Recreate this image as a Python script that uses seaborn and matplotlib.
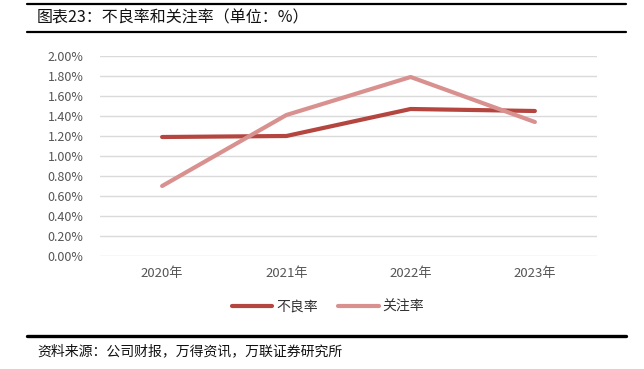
import matplotlib
matplotlib.use("Agg")
import matplotlib.pyplot as plt
import seaborn as sns
import pandas as pd
from matplotlib.lines import Line2D

years = ["2020年", "2021年", "2022年", "2023年"]
npl_rate = [1.19, 1.20, 1.47, 1.45]        # 不良率 (%)
watch_rate = [0.70, 1.41, 1.79, 1.34]      # 关注率 (%)
series_names = ["不良率", "关注率"]
yticks = [0.0, 0.2, 0.4, 0.6, 0.8, 1.0, 1.2, 1.4, 1.6, 1.8, 2.0]

sns.set_theme(style="white")
plt.rcParams['font.family'] = ['Noto Sans CJK SC', 'DejaVu Sans']

df = pd.DataFrame({
    "年份": years * 2,
    "值": npl_rate + watch_rate,
    "系列": [series_names[0]] * 4 + [series_names[1]] * 4,
})

colors = {"不良率": "#B4453F", "关注率": "#D9918F"}

fig = plt.figure(figsize=(6.44, 3.69), dpi=100)
ax = fig.add_axes([100/644, 1-256/369, 497/644, 200/369])

sns.lineplot(data=df, x="年份", y="值", hue="系列", palette=colors,
             linewidth=3.0, ax=ax, legend=False, sort=False)

ax.set_xlim(-0.5, 3.5)
ax.set_ylim(0, 2.0)
ax.set_yticks(yticks)
ax.set_yticklabels([f"{v:.2f}%" for v in yticks], fontsize=9, color="#555555")
ax.tick_params(axis="y", length=0, pad=12)
ax.tick_params(axis="x", length=0, pad=8, labelsize=9.5, labelcolor="#555555")
ax.set_xlabel("")
ax.set_ylabel("")
ax.grid(axis="y", color="#DADADA", linewidth=1.0)
ax.set_axisbelow(True)
for s in ax.spines.values():
    s.set_visible(False)

handles = [Line2D([0], [0], color=colors[n], linewidth=3.0) for n in series_names]
fig.legend(handles, series_names, loc="center", bbox_to_anchor=(328/644, 1-307/369),
           ncol=2, frameon=False, fontsize=10, handlelength=2.9, handletextpad=0.25,
           columnspacing=1.5, labelcolor="#333333")

# title and decorative rules
fig.add_artist(Line2D([27/644, 626/644], [1-4/369, 1-4/369], color="black", linewidth=1.6))
fig.add_artist(Line2D([27/644, 626/644], [1-31.5/369, 1-31.5/369], color="black", linewidth=1.6))
fig.text(37/644, 1-18/369, "图表23：不良率和关注率（单位：%）", fontsize=11.5, va="center", ha="left",
         color="#111111")
fig.add_artist(Line2D([27/644, 626/644], [1-335.5/369, 1-335.5/369], color="black", linewidth=2.4))
fig.text(37/644, 1-351/369, "资料来源：公司财报，万得资讯，万联证券研究所", fontsize=10, va="center",
         ha="left", style="italic", color="#111111")

fig.savefig("out.png", dpi=100)
